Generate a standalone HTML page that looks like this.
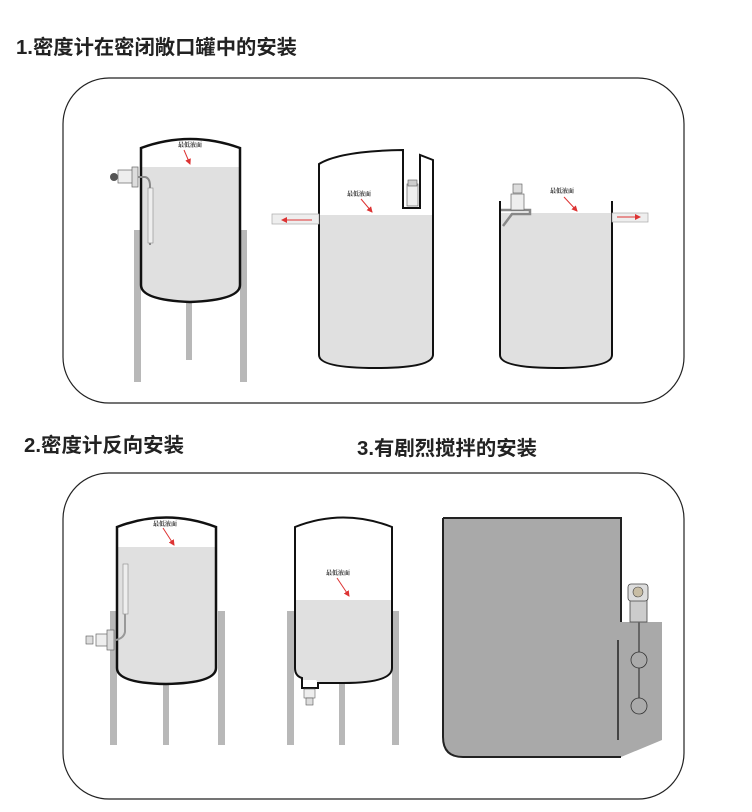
<!DOCTYPE html>
<html><head><meta charset="utf-8"><style>
body{margin:0;background:#fff;}
svg{display:block}
.t{font-family:"Liberation Sans","Noto Sans CJK SC",sans-serif;font-weight:bold;font-size:20px;fill:#222}
.l{font-family:"Liberation Serif","Noto Serif CJK SC",serif;font-size:6px;fill:#333;font-weight:bold}
</style></head><body>
<svg width="752" height="812" viewBox="0 0 752 812" xmlns="http://www.w3.org/2000/svg">
<defs><marker id="a" markerWidth="6" markerHeight="6" refX="5" refY="3" orient="auto"><path d="M0,0 L6,3 L0,6z" fill="#d33"/></marker></defs>
<text class="t" x="16" y="54" textLength="281" lengthAdjust="spacingAndGlyphs">1.密度计在密闭敞口罐中的安装</text>
<text class="t" x="24" y="452" textLength="160" lengthAdjust="spacingAndGlyphs">2.密度计反向安装</text>
<text class="t" x="357" y="455" textLength="180" lengthAdjust="spacingAndGlyphs">3.有剧烈搅拌的安装</text>
<rect x="63" y="78" width="621" height="325" rx="46" fill="none" stroke="#222" stroke-width="1.2"/>
<rect x="63" y="473" width="621" height="326" rx="46" fill="none" stroke="#222" stroke-width="1.2"/>

<g fill="#b8b8b8">
<rect x="134" y="230" width="7" height="152"/><rect x="240" y="230" width="7" height="152"/><rect x="186" y="300" width="6" height="60"/>
</g>
<path d="M141,167 L240,167 L240,285 Q240,300 190,302 Q141,300 141,285Z" fill="#e0e0e0"/>
<path d="M141,148 Q190,130 240,148 L240,285 Q240,300 190,302 Q141,300 141,285Z" fill="none" stroke="#111" stroke-width="2.5"/>
<text class="l" x="178" y="147">最低液面</text>
<line x1="184" y1="150" x2="190" y2="164" stroke="#d33" stroke-width="1" marker-end="url(#a)"/>
<rect x="118" y="170" width="15" height="13" fill="#eee" stroke="#666" stroke-width="0.7"/>
<rect x="132" y="167" width="6" height="20" fill="#ddd" stroke="#666" stroke-width="0.7"/>
<circle cx="114" cy="177" r="4" fill="#555"/>
<path d="M138,177 L145,177 Q150,178 150,186 L150,245" fill="none" stroke="#888" stroke-width="2"/>
<rect x="148" y="188" width="5" height="55" fill="#eee" stroke="#888" stroke-width="0.6"/>

<path d="M319,215 L432,215 L432,355 Q432,368 376,368 Q319,368 319,355Z" fill="#e0e0e0"/>
<path d="M319,164 Q340,151 403,150 L403,208 L420,208 L420,155 L433,160 L433,355 Q432,368 376,368 Q319,368 319,355Z" fill="none" stroke="#111" stroke-width="2"/>
<rect x="272" y="214" width="47" height="10" fill="#eee" stroke="#aaa" stroke-width="0.7"/>
<line x1="312" y1="220" x2="282" y2="220" stroke="#d33" stroke-width="1" marker-end="url(#a)"/>
<rect x="407" y="184" width="11" height="22" fill="#eee" stroke="#666" stroke-width="0.7"/>
<rect x="408" y="180" width="9" height="6" fill="#ccc" stroke="#555" stroke-width="0.6"/>
<text class="l" x="347" y="196">最低液面</text>
<line x1="361" y1="199" x2="372" y2="212" stroke="#d33" stroke-width="1" marker-end="url(#a)"/>

<path d="M500,213 L612,213 L612,355 Q612,368 556,368 Q500,368 500,355Z" fill="#e0e0e0"/>
<path d="M500,201 L500,355 Q500,368 556,368 Q612,368 612,355 L612,201" fill="none" stroke="#111" stroke-width="2"/>
<rect x="612" y="213" width="36" height="9" fill="#eee" stroke="#aaa" stroke-width="0.7"/>
<line x1="617" y1="217" x2="640" y2="217" stroke="#d33" stroke-width="1" marker-end="url(#a)"/>
<path d="M501,210 L530,210 L530,214 L512,214 L503,226" fill="none" stroke="#888" stroke-width="2.5"/>
<rect x="511" y="194" width="13" height="16" fill="#eee" stroke="#666" stroke-width="0.7"/>
<rect x="513" y="184" width="9" height="9" fill="#ddd" stroke="#555" stroke-width="0.6"/>
<text class="l" x="550" y="193">最低液面</text>
<line x1="564" y1="197" x2="577" y2="211" stroke="#d33" stroke-width="1" marker-end="url(#a)"/>

<g fill="#b8b8b8">
<rect x="110" y="611" width="7" height="134"/><rect x="218" y="611" width="7" height="134"/><rect x="163" y="684" width="6" height="61"/>
</g>
<path d="M117,547 L216,547 L216,668 Q216,683 166,684 Q117,683 117,668Z" fill="#e0e0e0"/>
<path d="M117,527 Q166,508 216,527 L216,668 Q216,683 166,684 Q117,683 117,668Z" fill="none" stroke="#111" stroke-width="2.5"/>
<text class="l" x="153" y="526">最低液面</text>
<line x1="163" y1="528" x2="174" y2="545" stroke="#d33" stroke-width="1" marker-end="url(#a)"/>
<rect x="123" y="564" width="5" height="50" fill="#eee" stroke="#888" stroke-width="0.6"/>
<path d="M125,614 L125,632 Q124,638 116,640" fill="none" stroke="#999" stroke-width="2"/>
<rect x="96" y="634" width="12" height="12" fill="#eee" stroke="#666" stroke-width="0.7"/>
<rect x="107" y="630" width="7" height="20" fill="#ddd" stroke="#666" stroke-width="0.7"/>
<rect x="86" y="636" width="7" height="8" fill="#ddd" stroke="#555" stroke-width="0.6"/>

<g fill="#b8b8b8">
<rect x="287" y="611" width="7" height="134"/><rect x="392" y="611" width="7" height="134"/><rect x="339" y="684" width="6" height="61"/>
</g>
<path d="M295,600 L392,600 L392,668 Q392,683 343,683 L318,683 L316,680 L302,680 Q295,676 295,668Z" fill="#e0e0e0"/>
<path d="M295,527 Q343,508 392,527 L392,668 Q392,683 343,683 L318,683 L318,688 L302,688 L302,678 Q295,676 295,668Z" fill="none" stroke="#111" stroke-width="2"/>
<rect x="304" y="689" width="11" height="9" fill="#eee" stroke="#666" stroke-width="0.6"/>
<rect x="306" y="698" width="7" height="7" fill="#ddd" stroke="#555" stroke-width="0.6"/>
<text class="l" x="326" y="575">最低液面</text>
<line x1="337" y1="578" x2="349" y2="596" stroke="#d33" stroke-width="1" marker-end="url(#a)"/>

<path d="M443,518 L621,518 L621,622 L662,622 L662,740 L621,757 L463,757 Q443,757 443,737Z" fill="#a9a9a9"/>
<path d="M443,518 L621,518 L621,622 M621,757 L463,757 Q443,757 443,737 L443,518" fill="none" stroke="#222" stroke-width="2"/>
<line x1="618" y1="640" x2="618" y2="740" stroke="#222" stroke-width="1.5"/>
<rect x="630" y="600" width="17" height="22" fill="#ccc" stroke="#444" stroke-width="0.8"/>
<rect x="628" y="584" width="20" height="17" rx="3" fill="#ddd" stroke="#444" stroke-width="0.8"/>
<circle cx="638" cy="592" r="5" fill="#c8bda4" stroke="#444" stroke-width="0.6"/>
<line x1="639" y1="622" x2="639" y2="712" stroke="#666" stroke-width="2"/>
<circle cx="639" cy="660" r="8" fill="#aaa" stroke="#333" stroke-width="0.8"/>
<circle cx="639" cy="706" r="8" fill="#aaa" stroke="#333" stroke-width="0.8"/>
</svg>
</body></html>
